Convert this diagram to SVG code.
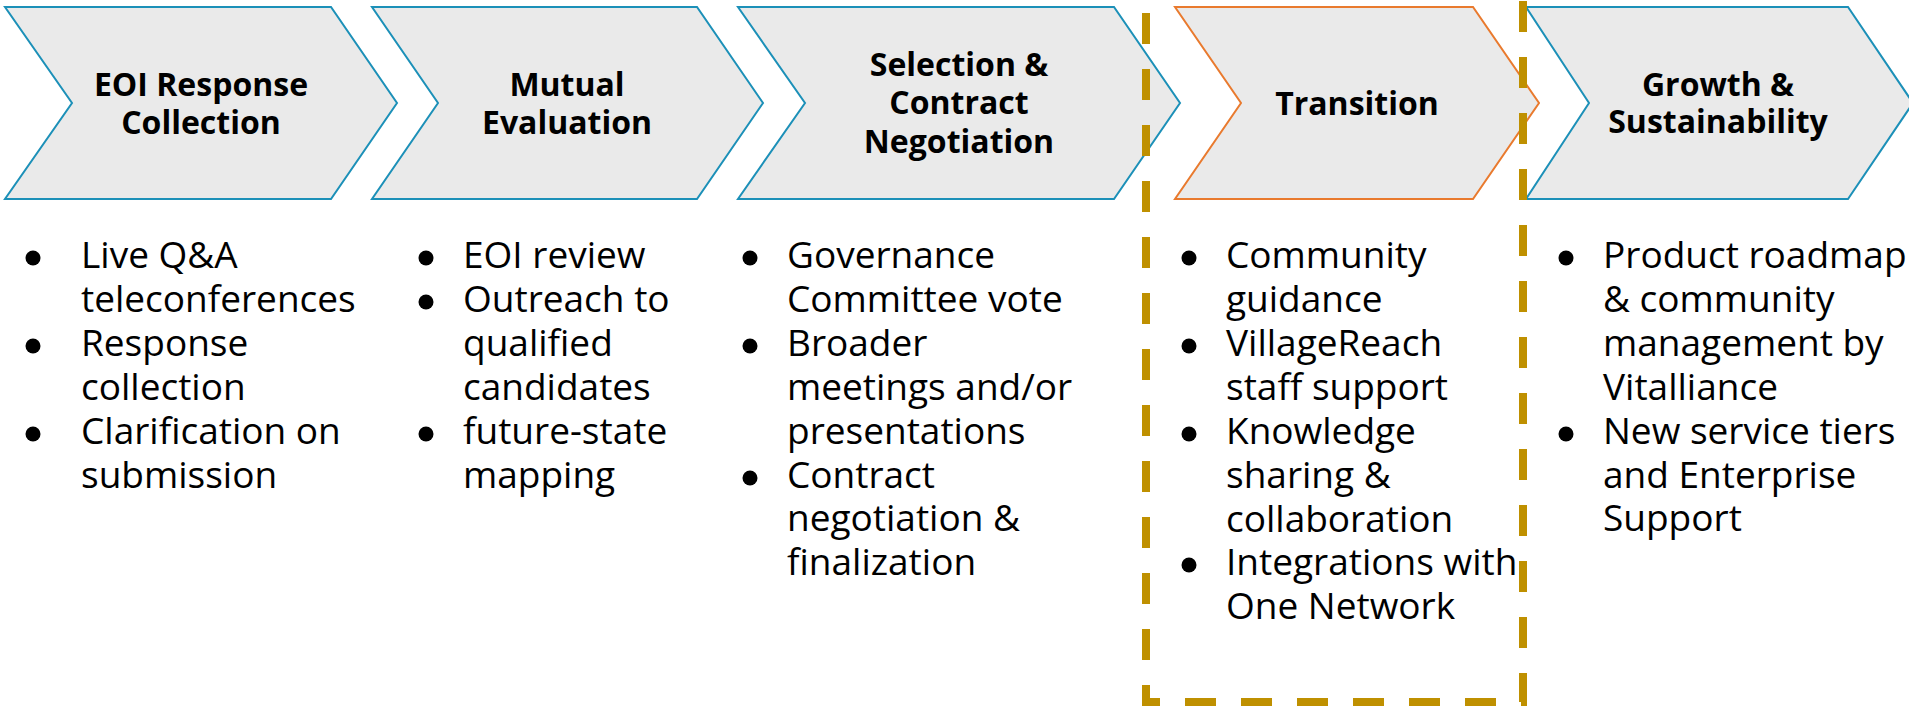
<svg xmlns="http://www.w3.org/2000/svg" width="1909" height="709" viewBox="0 0 1909 709">
  <style>
    .chev { fill: #EAEAEA; stroke: #1C90B8; stroke-width: 2; stroke-linejoin: miter; }
    .chev-hl { fill: #EAEAEA; stroke: #E97A2E; stroke-width: 2; stroke-linejoin: miter; }
    .head { font-family: "Open Sans", "Liberation Sans", sans-serif; font-weight: 700; font-size: 32px; fill: #000; text-anchor: middle; }
    .body { font-family: "Open Sans", "Liberation Sans", sans-serif; font-weight: 400; font-size: 37px; fill: #000; }
    .dot { fill: #000; }
    .frame { fill: none; stroke: #BF9000; stroke-width: 8; stroke-dasharray: 31 25; stroke-linejoin: miter; }
  </style>
  <rect width="1909" height="709" fill="#FFFFFF"/>

  <g id="stage-eoi-response-collection">
    <polygon class="chev" points="5,7 331,7 397,103 331,199 5,199 72,103"/>
    <text class="head" x="201" y="96">EOI Response</text>
    <text class="head" x="201" y="134">Collection</text>
    <circle class="dot" cx="33" cy="258" r="7.5"/>
    <circle class="dot" cx="33" cy="346" r="7.5"/>
    <circle class="dot" cx="33" cy="434" r="7.5"/>
    <text class="body" x="81" y="268">Live Q&amp;A</text>
    <text class="body" x="81" y="312">teleconferences</text>
    <text class="body" x="81" y="356">Response</text>
    <text class="body" x="81" y="400">collection</text>
    <text class="body" x="81" y="444">Clarification on</text>
    <text class="body" x="81" y="488">submission</text>
  </g>

  <g id="stage-mutual-evaluation">
    <polygon class="chev" points="372,7 697,7 763,103 697,199 372,199 438,103"/>
    <text class="head" x="567" y="96">Mutual</text>
    <text class="head" x="567" y="134">Evaluation</text>
    <circle class="dot" cx="426" cy="258" r="7.5"/>
    <circle class="dot" cx="426" cy="302" r="7.5"/>
    <circle class="dot" cx="426" cy="434" r="7.5"/>
    <text class="body" x="463" y="268">EOI review</text>
    <text class="body" x="463" y="312">Outreach to</text>
    <text class="body" x="463" y="356">qualified</text>
    <text class="body" x="463" y="400">candidates</text>
    <text class="body" x="463" y="444">future-state</text>
    <text class="body" x="463" y="488">mapping</text>
  </g>

  <g id="stage-selection-contract-negotiation">
    <polygon class="chev" points="738,7 1114,7 1180,103 1114,199 738,199 805,103"/>
    <text class="head" x="959" y="76">Selection &amp;</text>
    <text class="head" x="959" y="114">Contract</text>
    <text class="head" x="959" y="153">Negotiation</text>
    <circle class="dot" cx="750" cy="258" r="7.5"/>
    <circle class="dot" cx="750" cy="346" r="7.5"/>
    <circle class="dot" cx="750" cy="478" r="7.5"/>
    <text class="body" x="787" y="268">Governance</text>
    <text class="body" x="787" y="312">Committee vote</text>
    <text class="body" x="787" y="356">Broader</text>
    <text class="body" x="787" y="400">meetings and/or</text>
    <text class="body" x="787" y="444">presentations</text>
    <text class="body" x="787" y="488">Contract</text>
    <text class="body" x="787" y="531">negotiation &amp;</text>
    <text class="body" x="787" y="575">finalization</text>
  </g>

  <g id="stage-transition">
    <polygon class="chev-hl" points="1175,7 1473,7 1539,103 1473,199 1175,199 1241,103"/>
    <text class="head" x="1357" y="115">Transition</text>
    <circle class="dot" cx="1189" cy="258" r="7.5"/>
    <circle class="dot" cx="1189" cy="346" r="7.5"/>
    <circle class="dot" cx="1189" cy="434" r="7.5"/>
    <circle class="dot" cx="1189" cy="565" r="7.5"/>
    <text class="body" x="1226" y="268">Community</text>
    <text class="body" x="1226" y="312">guidance</text>
    <text class="body" x="1226" y="356">VillageReach</text>
    <text class="body" x="1226" y="400">staff support</text>
    <text class="body" x="1226" y="444">Knowledge</text>
    <text class="body" x="1226" y="488">sharing &amp;</text>
    <text class="body" x="1226" y="532">collaboration</text>
    <text class="body" x="1226" y="575">Integrations with</text>
    <text class="body" x="1226" y="619">One Network</text>
  </g>

  <g id="stage-growth-sustainability">
    <polygon class="chev" points="1526,7 1848,7 1913,103 1848,199 1526,199 1589,103"/>
    <text class="head" x="1718" y="96">Growth &amp;</text>
    <text class="head" x="1718" y="133">Sustainability</text>
    <circle class="dot" cx="1566" cy="258" r="7.5"/>
    <circle class="dot" cx="1566" cy="434" r="7.5"/>
    <text class="body" x="1603" y="268">Product roadmap</text>
    <text class="body" x="1603" y="312">&amp; community</text>
    <text class="body" x="1603" y="356">management by</text>
    <text class="body" x="1603" y="400">Vitalliance</text>
    <text class="body" x="1603" y="444">New service tiers</text>
    <text class="body" x="1603" y="488">and Enterprise</text>
    <text class="body" x="1603" y="531">Support</text>
  </g>

  <g id="transition-highlight">
    <path class="frame" d="M1523,1 L1523,702 L1146,702 L1146,0"/>
  </g>
</svg>
